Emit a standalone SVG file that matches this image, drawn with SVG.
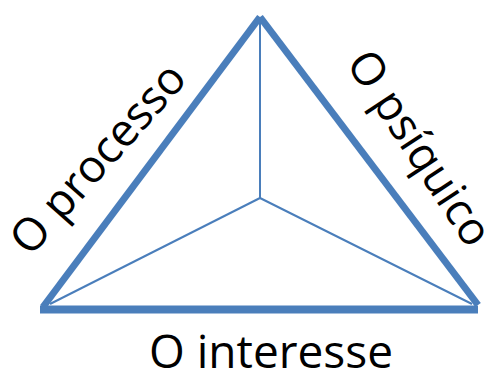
<svg xmlns="http://www.w3.org/2000/svg" width="498" height="372" viewBox="0 0 498 372">
<style>
.edge{stroke:#4a7ebb;stroke-width:7;stroke-linecap:butt;fill:none}
.spoke{stroke:#4a7ebb;stroke-width:2;fill:none}
.lbl{font-family:"Open Sans","Liberation Sans",sans-serif;font-size:45.3px;fill:#000;text-anchor:middle}
</style>
<rect width="498" height="372" fill="#fff"/>
<g id="connectors">
<line class="spoke" x1="260" y1="198" x2="260" y2="20"/>
<line class="spoke" x1="260" y1="198" x2="50" y2="304"/>
<line class="spoke" x1="260" y1="198" x2="472" y2="304"/>
<line class="edge" x1="43" y1="307" x2="260" y2="17"/>
<line class="edge" x1="260" y1="17" x2="478" y2="305"/>
<line class="edge" x1="40" y1="309.5" x2="478" y2="309.5" style="stroke-width:8"/>
</g>
<g id="node-processo">
<text class="lbl" transform="translate(109.5,168.8) rotate(-48.3)">O processo</text>
</g>
<g id="node-psiquico">
<text class="lbl" transform="translate(406.8,156.7) rotate(56.6)">O psíquico</text>
</g>
<g id="node-interesse">
<text class="lbl" x="271" y="368" style="font-size:46px">O interesse</text>
</g>
</svg>
